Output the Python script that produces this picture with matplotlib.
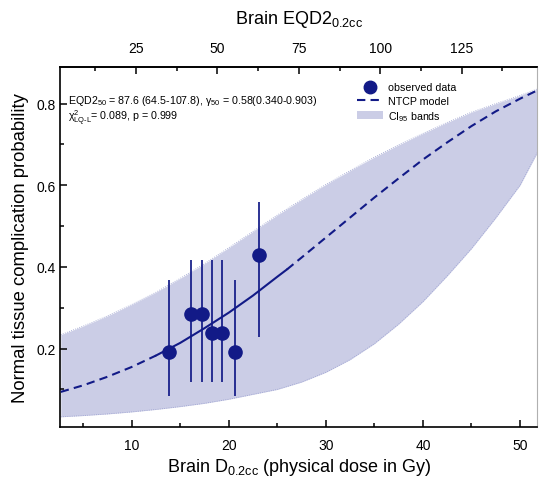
import matplotlib
matplotlib.use("Agg")
import matplotlib.pyplot as plt
from matplotlib.ticker import MultipleLocator, FixedLocator
from matplotlib.lines import Line2D
from matplotlib.patches import Patch
import numpy as np

plt.rcParams["font.family"] = ["Liberation Sans", "DejaVu Sans"]
plt.rcParams["mathtext.fontset"] = "custom"
plt.rcParams["mathtext.rm"] = "Liberation Sans"
plt.rcParams["mathtext.it"] = "Liberation Sans:italic"
plt.rcParams["mathtext.default"] = "regular"

# Observed data (physical dose in Gy, NTCP, error bar limits)
obs_dose = [13.8, 16.1, 17.2, 18.3, 19.3, 20.6, 23.1]
obs_ntcp = [0.191, 0.285, 0.285, 0.238, 0.238, 0.191, 0.430]
obs_low = [0.085, 0.118, 0.118, 0.118, 0.118, 0.085, 0.228]
obs_high = [0.367, 0.418, 0.418, 0.418, 0.418, 0.367, 0.560]

# NTCP model curve
curve_dose = [2.7, 5, 7.5, 10, 12.5, 15, 17.5, 20, 22.5, 25, 26, 27.5, 30,
              32.5, 35, 37.5, 40, 42.5, 45, 47.5, 50, 52]
curve_ntcp = [0.094, 0.110, 0.131, 0.155, 0.183, 0.214, 0.250, 0.288, 0.330,
              0.376, 0.394, 0.423, 0.472, 0.521, 0.570, 0.617, 0.663, 0.705,
              0.745, 0.781, 0.812, 0.835]
fit_range = (12.5, 26)

# 95% confidence band
band_dose = [2.7, 5, 7.5, 10, 12.5, 15, 17.5, 20, 22.5, 25, 27.5, 30, 32.5,
             35, 37.5, 40, 42.5, 45, 47.5, 50, 52]
band_upper = [0.234, 0.255, 0.280, 0.308, 0.338, 0.372, 0.408, 0.447, 0.487,
              0.527, 0.565, 0.602, 0.636, 0.669, 0.699, 0.727, 0.754, 0.779,
              0.800, 0.820, 0.838]
band_lower = [0.033, 0.036, 0.040, 0.045, 0.051, 0.058, 0.066, 0.076, 0.088,
              0.100, 0.118, 0.142, 0.173, 0.212, 0.260, 0.315, 0.378, 0.445,
              0.520, 0.600, 0.690]

# top axis (EQD2) tick values
eqd2_ticks = [25, 50, 75, 100, 125]
eqd2_minor = [12.5, 37.5, 62.5, 87.5, 112.5, 137.5]

navy = "#121a87"
band_color = "#cbcde6"

fig = plt.figure(figsize=(5.39, 4.85), dpi=100)
ax = fig.add_axes([0.1122, 0.1175, 0.885, 0.7417])

ax.fill_between(band_dose, band_lower, band_upper, color=band_color, lw=0, zorder=1)
ax.plot(band_dose, band_upper, color="#9aa0d0", lw=0.6, ls=":", zorder=1)
ax.plot(band_dose, band_lower, color="#9aa0d0", lw=0.6, ls=":", zorder=1)

cd = np.array(curve_dose)
cn = np.array(curve_ntcp)
solid = (cd >= fit_range[0]) & (cd <= fit_range[1])
left = cd <= fit_range[0]
right = cd >= fit_range[1]
ax.plot(cd[solid], cn[solid], color=navy, lw=1.5, zorder=3)
ax.plot(cd[left], cn[left], color=navy, lw=1.5, dashes=(4, 2.5), zorder=3)
ax.plot(cd[right], cn[right], color=navy, lw=1.5, dashes=(4, 2.5), zorder=3)

ax.vlines(obs_dose, obs_low, obs_high, color=navy, lw=1.25, zorder=4)
ax.plot(obs_dose, obs_ntcp, "o", color=navy, ms=9.5, zorder=5)

ax.set_xlim(2.67, 51.8)
ax.set_ylim(0.008, 0.889)
ax.xaxis.set_major_locator(MultipleLocator(10))
ax.xaxis.set_minor_locator(MultipleLocator(5))
ax.yaxis.set_major_locator(MultipleLocator(0.2))
ax.yaxis.set_minor_locator(MultipleLocator(0.1))
ax.yaxis.set_major_formatter(plt.FuncFormatter(lambda v, p: f"{v:.1f}"))
ax.tick_params(which="both", direction="in", top=False, right=False, labelsize=10)
ax.tick_params(which="major", length=5, width=1.1)
ax.tick_params(which="minor", length=3, width=1.1)
ax.tick_params(axis="x", which="major", pad=8)
for s in ax.spines.values():
    s.set_linewidth(1.2)
ax.spines["right"].set_color("#b0b0b0")
ax.spines["right"].set_linewidth(0.8)

ax.set_xlabel(r"Brain D$_{0.2cc}$ (physical dose in Gy)", fontsize=13, labelpad=2.5)
ax.set_ylabel("Normal tissue complication probability", fontsize=13.3, labelpad=5)

top = ax.secondary_xaxis("top", functions=(lambda d: 2.981 * d - 6.13,
                                           lambda e: (e + 6.13) / 2.981))
top.xaxis.set_major_locator(FixedLocator(eqd2_ticks))
top.xaxis.set_minor_locator(FixedLocator(eqd2_minor))
top.tick_params(which="both", direction="in", labelsize=10, pad=9)
top.tick_params(which="major", length=5, width=1.1)
top.tick_params(which="minor", length=3, width=1.1)
top.spines["top"].set_linewidth(1.2)
top.set_xlabel(r"Brain EQD2$_{0.2cc}$", fontsize=13, labelpad=13)

ax.text(0.016, 0.91, r"EQD2$_{50}$ = 87.6 (64.5-107.8), $\gamma_{50}$ = 0.58(0.340-0.903)",
        transform=ax.transAxes, fontsize=7.7, va="center")
ax.text(0.016, 0.86, r"$\chi^{2}_{LQ\text{-}L}$= 0.089, p = 0.999",
        transform=ax.transAxes, fontsize=7.7, va="center")

handles = [
    Line2D([], [], marker="o", color=navy, ls="none", ms=9),
    Line2D([], [], color=navy, lw=1.5, dashes=(4, 2.5)),
    Patch(facecolor=band_color, edgecolor="none"),
]
labels = ["observed data", "NTCP model", r"CI$_{95}$ bands"]
ax.legend(handles, labels, loc="upper left", bbox_to_anchor=(0.613, 0.97),
          frameon=False, fontsize=7.7, handlelength=2.4, handletextpad=0.5,
          labelspacing=0.3, borderaxespad=0)

fig.savefig("out.png", dpi=100)
